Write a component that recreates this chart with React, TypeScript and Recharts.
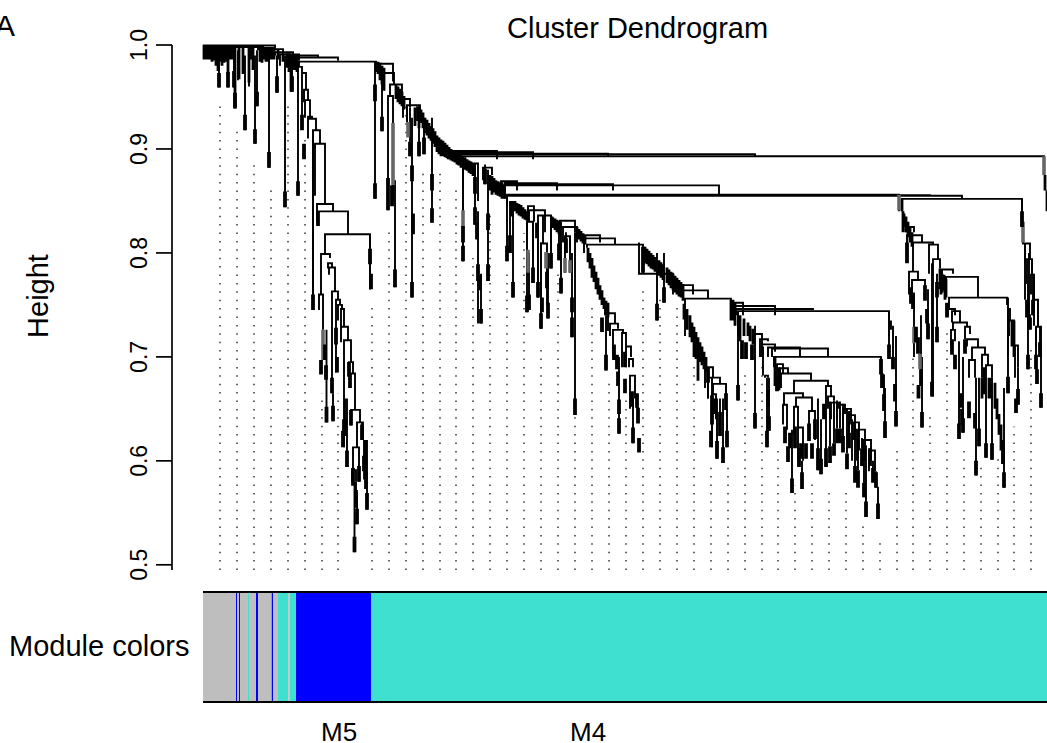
import { BarChart, Bar, LineChart, Line, XAxis, YAxis } from "recharts";

// x is the leaf position along the dendrogram, y is the merge height
type Merge = [number, number, number, number, number]; // left x, left low, right x, right low, height
type Stem = [number, number, number]; // x, top, bottom

const HEIGHT_TICKS = [0.5, 0.6, 0.7, 0.8, 0.9, 1.0];

const moduleWidths = [33, 1.3, 1.7, 1, 7.3, 1.7, 7, 2, 13.7, 1.3, 4.3, 11, 1.4, 6.3, 75, 676];
const moduleColors = ["#bebebe", "#0000ff", "#bebebe", "#0000ff", "#bebebe", "#40e0d0", "#bebebe", "#0000ff", "#bebebe", "#0000ff", "#bebebe", "#40e0d0", "#bebebe", "#40e0d0", "#0000ff", "#40e0d0"];

const guideX = [17, 34, 51, 68, 85, 102, 119, 135, 152, 169, 186, 203, 220, 237, 253, 270, 287, 304, 321, 338, 355, 372, 389, 406, 423, 440, 457, 474, 491, 508, 525, 542, 559, 575, 592, 609, 626, 643, 660, 677, 694, 710, 727, 744, 761, 778, 795, 811, 828];
const guideTop = [0.945, 0.921, 0.889, 0.866, 0.945, 0.914, 0.665, 0.665, 0.495, 0.748, 0.826, 0.943, 0.881, 0.881, 0.865, 0.795, 0.841, 0.781, 0.819, 0.708, 0.781, 0.66, 0.752, 0.676, 0.66, 0.764, 0.757, 0.748, 0.693, 0.598, 0.598, 0.684, 0.695, 0.614, 0.576, 0.583, 0.574, 0.574, 0.543, 0.527, 0.614, 0.702, 0.646, 0.726, 0.614, 0.598, 0.607, 0.633, 0.71];

const topMerges: Merge[] = [
  [1, 0.99, 72, 0.995, 0.9995], [10, 0.99, 60, 0.995, 0.999], [30, 0.99, 55, 0.995, 0.998], [57, 0.99, 80, 0.99, 0.996], [72, 0.99, 90, 0.985, 0.993], [77, 0.98, 96, 0.985, 0.991],
  [88, 0.98, 115, 0.988, 0.99], [92, 0.985, 135, 0.985, 0.988], [96, 0.979, 173, 0.974, 0.984],
  [95, 0.855, 99, 0.973, 0.979], [99, 0.924, 103, 0.957, 0.973], [101, 0.945, 105, 0.947, 0.957], [102, 0.93, 107, 0.931, 0.947], [105, 0.915, 109, 0.929, 0.931], [105, 0.91, 113, 0.918, 0.929], [110, 0.745, 117, 0.905, 0.918],
  [112, 0.855, 122, 0.847, 0.905], [114, 0.83, 130, 0.84, 0.847], [115, 0.826, 145, 0.818, 0.84], [122, 0.799, 167, 0.765, 0.818], [118, 0.76, 127, 0.795, 0.799], [125, 0.785, 129, 0.786, 0.79], [126, 0.779, 132, 0.763, 0.786],
  [116, 0.745, 120, 0.726, 0.76], [129, 0.665, 135, 0.755, 0.763], [133, 0.685, 137, 0.75, 0.755], [135, 0.735, 139, 0.746, 0.75], [138, 0.73, 141, 0.729, 0.746], [138, 0.714, 145, 0.716, 0.729], [141, 0.613, 148, 0.695, 0.716],
  [146, 0.681, 150, 0.684, 0.695], [147, 0.67, 152, 0.649, 0.684], [148, 0.634, 157, 0.637, 0.649], [154, 0.613, 160, 0.62, 0.637], [150, 0.593, 156, 0.58, 0.613], [149, 0.58, 153, 0.58, 0.591],
  [179, 0.917, 191, 0.962, 0.973], [187, 0.951, 199, 0.95, 0.962], [185, 0.841, 190, 0.85, 0.951], [200, 0.93, 207, 0.94, 0.948], [204, 0.926, 217, 0.93, 0.942],
  [176, 0.975, 190, 0.965, 0.982], [240, 0.9, 294, 0.89, 0.898], [245, 0.89, 330, 0.89, 0.897], [250, 0.89, 405, 0.892, 0.8955], [255, 0.885, 552, 0.893, 0.895], [260, 0.792, 841, 0.875, 0.893],
  [272, 0.86, 275, 0.85, 0.886], [280, 0.87, 289, 0.875, 0.882],
  [298, 0.86, 314, 0.86, 0.869], [302, 0.86, 354, 0.86, 0.867], [302, 0.86, 410, 0.86, 0.866], [302, 0.852, 516, 0.856, 0.865],
  [304, 0.845, 696, 0.84, 0.856], [304, 0.845, 727, 0.854, 0.8555], [304, 0.845, 759, 0.852, 0.855], [699, 0.84, 819, 0.84, 0.852],
  [325, 0.83, 331, 0.83, 0.845], [326, 0.83, 342, 0.82, 0.841], [324, 0.78, 330, 0.78, 0.83], [335, 0.757, 348, 0.79, 0.836], [338, 0.727, 344, 0.75, 0.809],
  [357, 0.815, 372, 0.82, 0.831], [360, 0.81, 374, 0.81, 0.825], [362, 0.8, 367, 0.8, 0.816],
  [380, 0.81, 397, 0.81, 0.817], [381, 0.8, 412, 0.808, 0.814], [384, 0.805, 440, 0.8, 0.808], [436, 0.81, 470, 0.76, 0.78],
  [478, 0.76, 490, 0.76, 0.769], [480, 0.755, 505, 0.756, 0.764], [482, 0.72, 528, 0.74, 0.756],
  [532, 0.74, 540, 0.74, 0.752], [532, 0.74, 572, 0.74, 0.749], [533, 0.74, 610, 0.745, 0.746], [535, 0.72, 686, 0.72, 0.744],
  [402, 0.74, 405, 0.745, 0.75], [405, 0.725, 412, 0.732, 0.742], [407, 0.72, 415, 0.727, 0.732], [410, 0.7, 420, 0.723, 0.726], [419, 0.69, 423, 0.71, 0.723], [423, 0.69, 428, 0.7, 0.71], [426, 0.69, 430, 0.69, 0.698], [427, 0.65, 432, 0.66, 0.682],
  [502, 0.67, 510, 0.68, 0.69], [505, 0.66, 517, 0.674, 0.68], [510, 0.664, 523, 0.66, 0.674], [509, 0.63, 513, 0.64, 0.664],
  [552, 0.72, 559, 0.71, 0.722], [557, 0.7, 565, 0.715, 0.717], [559, 0.7, 572, 0.705, 0.712], [565, 0.7, 597, 0.7, 0.709], [569, 0.7, 625, 0.7, 0.708], [571, 0.69, 678, 0.69, 0.7], [562, 0.68, 565, 0.68, 0.682],
  [574, 0.68, 580, 0.685, 0.693], [577, 0.67, 585, 0.684, 0.689], [578, 0.67, 608, 0.677, 0.684], [591, 0.665, 625, 0.672, 0.677], [623, 0.62, 628, 0.662, 0.672],
  [581, 0.654, 600, 0.661, 0.665], [580, 0.635, 584, 0.63, 0.654], [593, 0.652, 609, 0.648, 0.661], [591, 0.625, 595, 0.632, 0.652], [595, 0.6, 600, 0.6, 0.632], [606, 0.62, 612, 0.62, 0.648],
  [625, 0.65, 631, 0.658, 0.662], [628, 0.64, 636, 0.65, 0.656], [634, 0.64, 642, 0.645, 0.654], [640, 0.63, 648, 0.635, 0.65], [646, 0.625, 652, 0.62, 0.644], [650, 0.62, 656, 0.61, 0.637], [654, 0.6, 662, 0.6, 0.63], [660, 0.6, 668, 0.6, 0.62], [666, 0.59, 672, 0.59, 0.61],
  [703, 0.82, 711, 0.82, 0.825], [704, 0.792, 719, 0.81, 0.817], [710, 0.782, 730, 0.808, 0.81], [706, 0.76, 715, 0.774, 0.782], [709, 0.76, 722, 0.765, 0.774], [726, 0.78, 735, 0.794, 0.808], [730, 0.662, 737, 0.785, 0.794],
  [739, 0.77, 750, 0.78, 0.784], [743, 0.76, 775, 0.757, 0.777], [746, 0.745, 804, 0.75, 0.757], [745, 0.74, 752, 0.74, 0.746], [749, 0.733, 757, 0.733, 0.744], [750, 0.726, 764, 0.729, 0.733], [748, 0.71, 752, 0.715, 0.726],
  [762, 0.717, 767, 0.722, 0.729], [764, 0.71, 775, 0.709, 0.717], [769, 0.697, 782, 0.702, 0.709], [766, 0.68, 772, 0.68, 0.697], [779, 0.68, 785, 0.692, 0.702], [783, 0.67, 789, 0.68, 0.692],
  [805, 0.7, 807, 0.735, 0.746], [806, 0.72, 811, 0.711, 0.735], [812, 0.68, 815, 0.69, 0.711],
  [822, 0.79, 827, 0.794, 0.809], [824, 0.77, 829, 0.779, 0.794], [828, 0.76, 831, 0.755, 0.779], [831, 0.73, 835, 0.729, 0.755], [833, 0.71, 838, 0.72, 0.729],
];

const thinStems: Stem[] = [
  [16, 0.99, 0.959], [25, 0.99, 0.959], [31, 0.995, 0.959], [32, 0.99, 0.939], [35, 0.995, 0.966], [42, 0.99, 0.918], [46, 0.995, 0.96], [52, 0.99, 0.905], [54, 0.995, 0.941], [66, 0.99, 0.882], [74, 0.99, 0.954], [82, 0.99, 0.844], [89, 0.99, 0.955], [172, 0.984, 0.852], [164, 0.62, 0.553], [163, 0.62, 0.573], [162, 0.62, 0.582], [161, 0.62, 0.59], [159, 0.637, 0.62],
  [123.5, 0.726, 0.637], [130, 0.665, 0.638], [142, 0.66, 0.624], [144, 0.66, 0.594], [153, 0.58, 0.555], [154, 0.57, 0.539], [151.5, 0.58, 0.512], [167, 0.818, 0.765], [110, 0.918, 0.745],
  [192, 0.87, 0.767], [204, 0.942, 0.926], [207, 0.94, 0.893], [209, 0.93, 0.757], [216, 0.94, 0.893], [221, 0.93, 0.895], [229, 0.93, 0.829], [215, 0.94, 0.927],
  [260, 0.893, 0.792], [272, 0.885, 0.827], [275, 0.84, 0.732], [278, 0.78, 0.732], [285, 0.88, 0.773], [282, 0.885, 0.866],
  [304, 0.856, 0.792], [307, 0.85, 0.8], [310, 0.85, 0.757], [324, 0.83, 0.743], [330, 0.83, 0.771], [326, 0.8, 0.745], [335, 0.83, 0.757], [340, 0.836, 0.809], [338, 0.81, 0.727], [345, 0.8, 0.737], [344, 0.8, 0.766], [348, 0.836, 0.785], [358, 0.83, 0.761], [356, 0.83, 0.793], [369, 0.8, 0.719], [363, 0.82, 0.8], [372, 0.82, 0.644], [362, 0.81, 0.781], [367, 0.816, 0.781],
  [403, 0.74, 0.687], [416, 0.7, 0.626], [430, 0.66, 0.617], [440, 0.8, 0.781], [454, 0.8, 0.735], [461, 0.8, 0.752],
  [509, 0.68, 0.613], [514, 0.66, 0.602], [517, 0.66, 0.624], [520, 0.66, 0.598], [523, 0.674, 0.649], [524, 0.65, 0.613], [505, 0.69, 0.66],
  [535, 0.744, 0.658], [552, 0.73, 0.631], [560, 0.71, 0.682], [564, 0.68, 0.613], [566, 0.68, 0.629], [693, 0.72, 0.633], [690, 0.73, 0.69], [686, 0.744, 0.698],
  [589, 0.63, 0.569], [599, 0.6, 0.573], [615, 0.66, 0.591], [618, 0.64, 0.587], [623, 0.62, 0.594], [627, 0.657, 0.614], [631, 0.658, 0.617], [634, 0.658, 0.631], [637, 0.657, 0.631], [640, 0.655, 0.624], [644, 0.65, 0.607], [646, 0.648, 0.627], [649, 0.64, 0.6], [652, 0.635, 0.595], [655, 0.63, 0.591], [659, 0.622, 0.612], [661, 0.618, 0.565], [663, 0.615, 0.546], [667, 0.612, 0.6], [670, 0.6, 0.593], [673, 0.59, 0.574], [675, 0.575, 0.544],
  [678, 0.7, 0.683], [681, 0.683, 0.648], [682, 0.67, 0.622],
  [711, 0.76, 0.7], [718, 0.74, 0.672], [725, 0.765, 0.717], [719, 0.7, 0.632], [729, 0.79, 0.662], [734, 0.78, 0.714], [756, 0.715, 0.621], [760, 0.7, 0.627], [773, 0.68, 0.586], [776, 0.68, 0.614], [783, 0.67, 0.603], [789, 0.68, 0.601], [801, 0.67, 0.574], [805, 0.757, 0.665], [825, 0.77, 0.688], [833, 0.729, 0.688], [838, 0.72, 0.651], [815, 0.69, 0.654],
  [819, 0.852, 0.825], [820, 0.83, 0.808], [822, 0.809, 0.755], [826, 0.8, 0.726], [829, 0.794, 0.78], [831, 0.779, 0.755], [835, 0.755, 0.729], [830, 0.78, 0.74], [837, 0.729, 0.7],
];

const combStems: Stem[] = [
  [1, 1, 0.986], [3, 1, 0.986], [5, 1, 0.986], [7, 1, 0.986], [9, 1, 0.984], [11, 1, 0.985], [13, 1, 0.98], [15, 1, 0.975], [17, 1, 0.984], [19, 1, 0.98], [21, 1, 0.983], [23, 1, 0.984], [25, 1, 0.972], [27, 1, 0.986], [29, 1, 0.986],
  [32, 0.998, 0.94], [36, 0.998, 0.967], [40, 0.998, 0.972], [46, 0.998, 0.964], [48, 0.998, 0.986], [50, 0.998, 0.976], [57, 0.998, 0.984], [59, 0.998, 0.983], [61, 0.998, 0.986], [63, 0.998, 0.984], [65, 0.998, 0.984], [67, 0.998, 0.986], [69, 0.998, 0.986], [71, 0.998, 0.986], [75, 0.996, 0.986],
  [80, 0.993, 0.984], [84, 0.992, 0.978], [86, 0.992, 0.974], [88, 0.991, 0.955], [90, 0.99, 0.976], [92, 0.99, 0.976], [94, 0.99, 0.974],
  [175, 0.984, 0.972], [177, 0.983, 0.966], [179, 0.98, 0.962], [181, 0.978, 0.956], [193, 0.962, 0.948], [195, 0.96, 0.945], [197, 0.958, 0.943], [199, 0.955, 0.941], [201, 0.951, 0.938],
  [212, 0.94, 0.922], [216, 0.94, 0.92], [218, 0.938, 0.925], [220, 0.935, 0.92], [222, 0.93, 0.915], [224, 0.928, 0.913], [226, 0.925, 0.91], [228, 0.922, 0.908], [230, 0.92, 0.905], [232, 0.917, 0.902], [234, 0.913, 0.897], [236, 0.911, 0.895], [238, 0.909, 0.893], [240, 0.908, 0.893], [242, 0.906, 0.892], [244, 0.904, 0.891], [246, 0.902, 0.89], [248, 0.9, 0.889], [250, 0.899, 0.888], [252, 0.898, 0.887], [254, 0.897, 0.885], [256, 0.896, 0.884], [258, 0.895, 0.882],
  [262, 0.892, 0.88], [264, 0.89, 0.879], [266, 0.889, 0.877], [268, 0.888, 0.876], [270, 0.887, 0.874], [287, 0.875, 0.86], [289, 0.874, 0.856], [291, 0.872, 0.858], [293, 0.87, 0.856], [295, 0.869, 0.855], [297, 0.868, 0.854], [299, 0.868, 0.852], [301, 0.866, 0.852],
  [312, 0.85, 0.84], [314, 0.848, 0.838], [316, 0.847, 0.836], [318, 0.846, 0.835], [320, 0.844, 0.833], [322, 0.842, 0.832], [324, 0.84, 0.831], [349, 0.835, 0.826], [350, 0.834, 0.824], [352, 0.833, 0.822], [354, 0.832, 0.82], [356, 0.831, 0.818],
  [374, 0.825, 0.815], [376, 0.823, 0.813], [378, 0.821, 0.811], [380, 0.819, 0.809], [382, 0.817, 0.808],
  [385, 0.805, 0.791], [387, 0.8, 0.785], [389, 0.795, 0.776], [391, 0.788, 0.772], [393, 0.782, 0.765], [395, 0.776, 0.76], [397, 0.769, 0.755], [399, 0.764, 0.75], [401, 0.757, 0.746], [403, 0.754, 0.74], [405, 0.752, 0.738],
  [442, 0.806, 0.79], [444, 0.804, 0.789], [446, 0.802, 0.787], [448, 0.8, 0.785], [450, 0.798, 0.784], [452, 0.796, 0.782], [456, 0.793, 0.778], [458, 0.791, 0.776], [460, 0.789, 0.774], [464, 0.786, 0.771], [466, 0.784, 0.769], [468, 0.782, 0.766], [470, 0.78, 0.764], [472, 0.778, 0.762], [474, 0.776, 0.76], [476, 0.774, 0.758], [478, 0.772, 0.757], [480, 0.77, 0.754],
  [481, 0.751, 0.736], [484, 0.746, 0.726], [487, 0.74, 0.719], [489, 0.733, 0.714], [491, 0.729, 0.7], [493, 0.724, 0.698], [495, 0.719, 0.677], [497, 0.714, 0.695], [499, 0.71, 0.692], [501, 0.705, 0.688], [503, 0.7, 0.686],
  [528, 0.755, 0.735], [530, 0.755, 0.735], [532, 0.752, 0.73], [537, 0.74, 0.715], [541, 0.737, 0.72], [545, 0.733, 0.72], [547, 0.73, 0.715], [550, 0.727, 0.712], [572, 0.7, 0.672], [576, 0.69, 0.668],
  [699, 0.852, 0.84], [700, 0.84, 0.82], [701, 0.838, 0.825], [703, 0.835, 0.82], [705, 0.83, 0.815], [707, 0.825, 0.81], [709, 0.82, 0.806],
  [737, 0.785, 0.765], [738, 0.783, 0.76], [739, 0.78, 0.762], [741, 0.779, 0.764], [742, 0.777, 0.755], [743, 0.775, 0.757],
  [779, 0.68, 0.66], [781, 0.69, 0.664], [786, 0.68, 0.66], [788, 0.68, 0.66], [792, 0.675, 0.65], [794, 0.66, 0.64], [796, 0.645, 0.625], [798, 0.635, 0.61], [800, 0.62, 0.597], [811, 0.735, 0.7], [809, 0.735, 0.71],
  [842, 0.875, 0.86], [844, 0.86, 0.84],
];

const tails: Stem[] = [
  [16, 0.973, 0.959], [25, 0.974, 0.959], [31, 0.975, 0.959], [32, 0.954, 0.939], [42, 0.933, 0.918], [52, 0.919, 0.905], [54, 0.955, 0.941], [66, 0.897, 0.882], [74, 0.97, 0.954], [82, 0.859, 0.844], [89, 0.97, 0.955], [95, 0.869, 0.855], [99, 0.933, 0.918], [101, 0.905, 0.89],
  [110, 0.76, 0.745], [118, 0.697, 0.683], [122, 0.712, 0.697], [123, 0.692, 0.678], [123.5, 0.652, 0.637], [129, 0.68, 0.665], [130, 0.653, 0.638], [133, 0.728, 0.712], [134, 0.7, 0.685], [141, 0.64, 0.626], [140, 0.629, 0.613], [142, 0.64, 0.624], [144, 0.61, 0.594],
  [146, 0.695, 0.681], [147, 0.684, 0.67], [148, 0.649, 0.634], [159, 0.635, 0.62], [161, 0.605, 0.59], [162, 0.597, 0.582], [163, 0.589, 0.573], [164, 0.569, 0.553], [150, 0.593, 0.576], [156, 0.595, 0.58], [153, 0.572, 0.555], [154, 0.554, 0.539], [151.5, 0.527, 0.512],
  [115, 0.84, 0.826], [167, 0.804, 0.789], [168, 0.78, 0.765], [172, 0.962, 0.946], [172, 0.867, 0.852], [179, 0.931, 0.917], [185, 0.872, 0.856], [185, 0.857, 0.841], [189, 0.865, 0.845], [192, 0.784, 0.767],
  [207, 0.907, 0.893], [209, 0.884, 0.869], [209, 0.772, 0.757], [210, 0.838, 0.818], [215, 0.941, 0.927], [216, 0.907, 0.893], [221, 0.911, 0.895], [229, 0.876, 0.86], [229, 0.843, 0.829],
  [260, 0.826, 0.81], [260, 0.807, 0.792], [272, 0.873, 0.857], [272, 0.844, 0.827], [274, 0.829, 0.813], [275, 0.789, 0.773], [277, 0.778, 0.764], [278, 0.746, 0.732], [282, 0.881, 0.866], [285, 0.838, 0.822], [285, 0.789, 0.773],
  [304, 0.807, 0.792], [307, 0.817, 0.8], [309, 0.85, 0.835], [310, 0.772, 0.757], [324, 0.759, 0.743], [326, 0.76, 0.745], [330, 0.786, 0.771], [334, 0.829, 0.814], [335, 0.772, 0.757], [339, 0.757, 0.743], [338, 0.742, 0.727], [344, 0.782, 0.766], [345, 0.752, 0.737], [348, 0.8, 0.785], [356, 0.809, 0.793], [358, 0.776, 0.761], [363, 0.814, 0.8], [369, 0.757, 0.743], [369, 0.738, 0.719], [372, 0.66, 0.644],
  [399, 0.738, 0.724], [403, 0.702, 0.687], [411, 0.712, 0.697], [414, 0.702, 0.688], [415, 0.686, 0.672], [416, 0.659, 0.645], [416, 0.641, 0.626], [422, 0.705, 0.69], [422, 0.679, 0.665], [429, 0.667, 0.652], [430, 0.632, 0.617], [434, 0.665, 0.651], [435, 0.651, 0.636], [436, 0.622, 0.608], [454, 0.751, 0.735], [440, 0.806, 0.781],
  [461, 0.767, 0.752], [505, 0.69, 0.675], [508, 0.629, 0.613], [509, 0.663, 0.635], [514, 0.619, 0.602], [517, 0.647, 0.624], [520, 0.613, 0.598], [523, 0.665, 0.649], [524, 0.629, 0.613], [511, 0.66, 0.645],
  [535, 0.673, 0.658], [539, 0.716, 0.698], [543, 0.714, 0.698], [549, 0.712, 0.697], [552, 0.646, 0.631], [564, 0.629, 0.613], [565, 0.668, 0.652], [566, 0.643, 0.629], [574, 0.681, 0.667],
  [678, 0.698, 0.683], [679, 0.684, 0.67], [681, 0.664, 0.648], [682, 0.638, 0.622], [686, 0.712, 0.698], [687, 0.735, 0.726], [690, 0.7, 0.688], [692, 0.674, 0.657], [693, 0.648, 0.633],
  [582, 0.633, 0.617], [585, 0.614, 0.599], [587, 0.627, 0.612], [589, 0.583, 0.569], [592, 0.633, 0.612], [596, 0.612, 0.594], [599, 0.589, 0.573], [603, 0.617, 0.602], [598, 0.617, 0.602], [606, 0.636, 0.619], [609, 0.617, 0.602], [612, 0.64, 0.621], [615, 0.612, 0.591], [618, 0.602, 0.587], [621, 0.655, 0.64], [623, 0.612, 0.594],
  [627, 0.614, 0.598], [631, 0.617, 0.605], [634, 0.631, 0.617], [637, 0.631, 0.617], [640, 0.624, 0.608], [644, 0.607, 0.592], [646, 0.627, 0.612], [652, 0.595, 0.579], [655, 0.591, 0.574], [659, 0.612, 0.595], [661, 0.579, 0.565], [663, 0.561, 0.546], [667, 0.612, 0.595], [670, 0.593, 0.579], [673, 0.589, 0.574], [675, 0.559, 0.544],
  [704, 0.81, 0.79], [708, 0.767, 0.751], [710, 0.762, 0.746], [713, 0.729, 0.714], [715, 0.719, 0.703], [718, 0.688, 0.672], [715.5, 0.673, 0.66], [719, 0.647, 0.632], [722, 0.769, 0.754], [724, 0.746, 0.732], [725, 0.732, 0.717], [729, 0.676, 0.662], [734, 0.772, 0.757], [734, 0.729, 0.714],
  [744, 0.752, 0.738], [749, 0.717, 0.702], [752, 0.702, 0.688], [758, 0.665, 0.651], [759, 0.65, 0.635], [756, 0.636, 0.621], [760, 0.641, 0.627], [762, 0.717, 0.703], [766, 0.657, 0.641], [772, 0.646, 0.631], [773, 0.6, 0.586], [776, 0.631, 0.614], [783, 0.617, 0.603], [789, 0.617, 0.601], [800, 0.612, 0.597], [801, 0.589, 0.574],
  [805, 0.681, 0.665], [815, 0.669, 0.654], [813, 0.66, 0.646], [819, 0.84, 0.825], [824, 0.755, 0.738], [826, 0.741, 0.726], [825, 0.702, 0.688], [830, 0.755, 0.74], [833, 0.702, 0.688], [834, 0.688, 0.674], [837, 0.714, 0.7], [838, 0.665, 0.651], [825, 0.752, 0.738], [827, 0.738, 0.726],
];

const grayTails: Stem[] = [
  [120, 0.726, 0.697], [190, 0.925, 0.865], [205, 0.926, 0.911], [260, 0.841, 0.826], [325, 0.803, 0.781], [343, 0.801, 0.785], [362, 0.795, 0.781], [367, 0.793, 0.781], [696, 0.856, 0.841], [711, 0.729, 0.713], [717, 0.703, 0.688], [820, 0.83, 0.81], [841, 0.893, 0.875],
];

type Pt = { x: number; y: number | null };

const mergePath: Pt[] = topMerges.flatMap(([a, lowA, b, lowB, h]) => [
  { x: a, y: lowA }, { x: a, y: h }, { x: b, y: h }, { x: b, y: lowB }, { x: b, y: null },
]);
const stemPath = (list: Stem[]): Pt[] =>
  list.flatMap(([x, top, bottom]) => [{ x, y: top }, { x, y: bottom }, { x, y: null }]);
const guidePath: Pt[] = guideX.flatMap((x, i) => [
  { x, y: 0.495 }, { x, y: guideTop[i] }, { x, y: null },
]);

const moduleRow = [Object.fromEntries(moduleWidths.map((w, i) => [`m${i}`, w]))];

const font = '"Liberation Sans", Arial, sans-serif';

const label = (text: string, left: number, top: number, size: number, lineHeight: number = size) => (
  <div style={{ position: "absolute", left, top, fontSize: size, lineHeight: `${lineHeight}px`, whiteSpace: "nowrap", color: "#000" }}>{text}</div>
);

const HeightTick = (p: any) => (
  <text x={147} y={p.y} transform={`rotate(-90 147 ${p.y})`} textAnchor="middle" fontSize={23} fontFamily={font} fill="#000">
    {p.payload.value.toFixed(1)}
  </text>
);

export default function App() {
  return (
    <div style={{ position: "absolute", left: 0, top: 0, width: 1047, height: 743, overflow: "hidden", background: "#fff", fontFamily: font }}>
      <LineChart width={1047} height={590} margin={{ top: 45, right: 0, bottom: 20, left: 0 }}>
        <XAxis type="number" dataKey="x" domain={[-31, 844]} hide />
        <YAxis
          type="number"
          width={172}
          domain={[0.5, 1]}
          ticks={HEIGHT_TICKS}
          tick={HeightTick}
          tickSize={16}
          tickLine={{ stroke: "#000", strokeWidth: 1.7 }}
          axisLine={{ stroke: "#000", strokeWidth: 1.7 }}
          interval={0}
        />
        <Line data={guidePath} dataKey="y" stroke="#333" strokeWidth={1.5} strokeDasharray="1.5 6.9" dot={false} isAnimationActive={false} connectNulls={false} />
        <Line data={mergePath} dataKey="y" stroke="#000" strokeWidth={1.9} dot={false} isAnimationActive={false} connectNulls={false} />
        <Line data={stemPath(thinStems)} dataKey="y" stroke="#000" strokeWidth={1.9} dot={false} isAnimationActive={false} connectNulls={false} />
        <Line data={stemPath(combStems)} dataKey="y" stroke="#000" strokeWidth={2.8} dot={false} isAnimationActive={false} connectNulls={false} />
        <Line data={stemPath(grayTails)} dataKey="y" stroke="#666" strokeWidth={3.6} dot={false} isAnimationActive={false} connectNulls={false} />
        <Line data={stemPath(tails)} dataKey="y" stroke="#000" strokeWidth={3.8} dot={false} isAnimationActive={false} connectNulls={false} />
      </LineChart>
      <div style={{ position: "absolute", left: 203, top: 591 }}>
        <BarChart width={844} height={112} layout="vertical" data={moduleRow} barCategoryGap={0} margin={{ top: 0, right: 0, bottom: 0, left: 0 }}>
          <XAxis xAxisId="top" orientation="top" type="number" domain={[0, 844]} height={1} tick={false} tickLine={false} axisLine={{ stroke: "#000", strokeWidth: 2 }} />
          <XAxis xAxisId="bottom" orientation="bottom" type="number" domain={[0, 844]} height={1} tick={false} tickLine={false} axisLine={{ stroke: "#000", strokeWidth: 2 }} />
          <YAxis type="category" hide />
          {moduleColors.map((c, i) => (
            <Bar key={i} xAxisId="bottom" dataKey={`m${i}`} stackId="module" fill={c} isAnimationActive={false} />
          ))}
        </BarChart>
      </div>
      {label("A", -5, 11, 30)}
      {label("Cluster Dendrogram", 507, 14, 29)}
      {label("Module colors", 9, 632, 29)}
      {label("M5", 321, 721, 26, 22)}
      {label("M4", 570, 721, 26, 22)}
      <div style={{ position: "absolute", left: 38, top: 296, transform: "translate(-50%,-50%) rotate(-90deg)", fontSize: 29, lineHeight: 1, whiteSpace: "nowrap" }}>Height</div>
    </div>
  );
}
